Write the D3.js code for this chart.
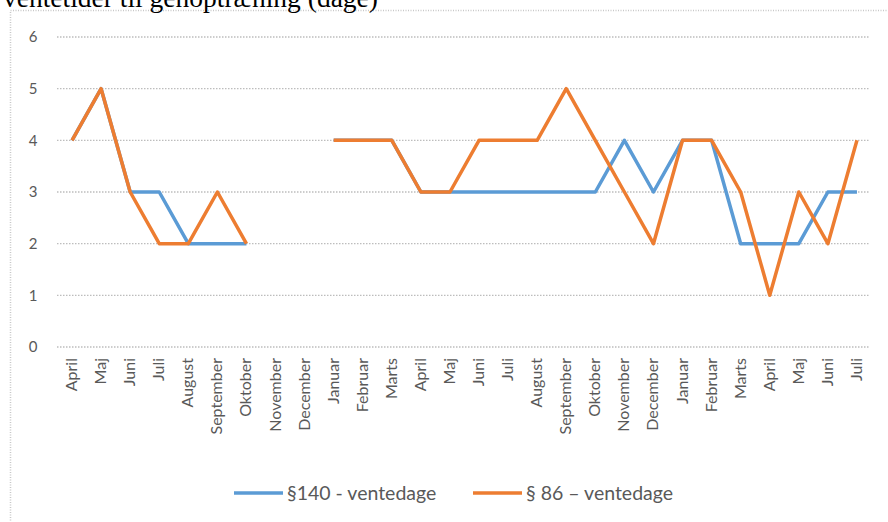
<!DOCTYPE html>
<html>
<head>
<meta charset="utf-8">
<script src="https://cdn.jsdelivr.net/npm/d3@7"></script>
<style>
  body { margin: 0; background: #fff; }
  svg { display: block; }
</style>
</head>
<body>
<div id="chart"></div>
<script>
// months along the x axis
var months = ["April", "Maj", "Juni", "Juli", "August", "September", "Oktober", "November", "December",
  "Januar", "Februar", "Marts", "April", "Maj", "Juni", "Juli", "August", "September", "Oktober",
  "November", "December", "Januar", "Februar", "Marts", "April", "Maj", "Juni", "Juli"];

// waiting days, null = no data
var s140 = [4, 5, 3, 3, 2, 2, 2, null, null, 4, 4, 4, 3, 3, 3, 3, 3, 3, 3, 4, 3, 4, 4, 2, 2, 2, 3, 3];
var s86 = [4, 5, 3, 2, 2, 3, 2, null, null, 4, 4, 4, 3, 3, 4, 4, 4, 5, 4, 3, 2, 4, 4, 3, 1, 3, 2, 4];

var yTicks = [0, 1, 2, 3, 4, 5, 6];
var seriesNames = ["§140 - ventedage", "§ 86 – ventedage"];
var colors = ["#5B9BD5", "#ED7D31"];

var svgWidth = 888;
var svgHeight = 522;

var svg = d3.select("#chart")
  .append("svg")
  .attr("width", svgWidth)
  .attr("height", svgHeight);

// chart frame (dotted)
svg.append("rect")
  .attr("x", 10.5)
  .attr("y", 10.5)
  .attr("width", 960)
  .attr("height", 600)
  .attr("fill", "none")
  .attr("stroke", "#c8c8c8")
  .attr("stroke-width", 1.5)
  .attr("stroke-dasharray", "1,1.5");

// title, cut off at the top like the source
svg.append("text")
  .attr("x", 3)
  .attr("y", 7)
  .attr("font-family", "Liberation Serif, serif")
  .attr("font-size", "27.5px")
  .attr("fill", "#000")
  .text("ventetider til genoptræning (dage)");

// scales
var xScale = d3.scaleBand()
  .domain(d3.range(months.length))
  .range([57.5, 871.5]);

var yScale = d3.scaleLinear()
  .domain([0, 6])
  .range([347, 37]);

// gridlines
svg.append("g")
  .selectAll("line")
  .data(yTicks)
  .enter()
  .append("line")
  .attr("x1", 57)
  .attr("x2", 870)
  .attr("y1", d => yScale(d))
  .attr("y2", d => yScale(d))
  .attr("stroke", "#bdbdbd")
  .attr("stroke-width", 1.3)
  .attr("stroke-dasharray", "1.5,1.5");

// y-axis labels
svg.append("g")
  .selectAll("text")
  .data(yTicks)
  .enter()
  .append("text")
  .attr("x", 33)
  .attr("y", d => yScale(d))
  .attr("dy", "0.35em")
  .attr("text-anchor", "middle")
  .attr("font-family", "Lato, sans-serif")
  .attr("font-size", "15px")
  .attr("fill", "#595959")
  .text(d => d);

// x-axis labels (rotated)
svg.append("g")
  .selectAll("text")
  .data(months)
  .enter()
  .append("text")
  .attr("transform", (d, i) => `translate(${xScale(i) + xScale.bandwidth() / 2 + 5}, 358) rotate(-90)`)
  .attr("text-anchor", "end")
  .attr("font-family", "Lato, sans-serif")
  .attr("font-size", "16px")
  .attr("fill", "#595959")
  .text(d => d);

// lines
var line = d3.line()
  .defined(d => d != null)
  .x((d, i) => xScale(i) + xScale.bandwidth() / 2)
  .y(d => yScale(d));

[s140, s86].forEach(function(series, k) {
  svg.append("path")
    .datum(series)
    .attr("d", line)
    .attr("fill", "none")
    .attr("stroke", colors[k])
    .attr("stroke-width", 3.5)
    .attr("stroke-linejoin", "round");
});

// legend
var legendX = [234, 473];
seriesNames.forEach(function(name, k) {
  var g = svg.append("g")
    .attr("transform", `translate(${legendX[k]}, 493)`);
  g.append("line")
    .attr("x1", 0)
    .attr("x2", 49)
    .attr("stroke", colors[k])
    .attr("stroke-width", 3.5);
  g.append("text")
    .attr("x", 53)
    .attr("dy", "0.35em")
    .attr("font-family", "Lato, sans-serif")
    .attr("font-size", "19.5px")
    .attr("fill", "#595959")
    .text(name);
});
</script>
</body>
</html>
